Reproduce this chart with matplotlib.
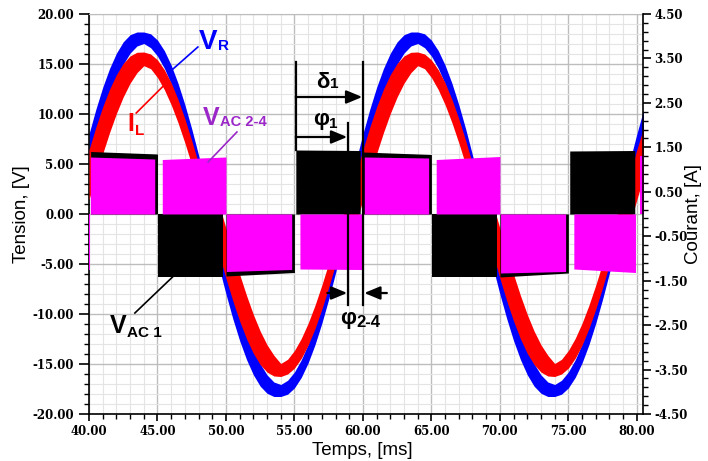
import numpy as np
import matplotlib
matplotlib.use("Agg")
import matplotlib.pyplot as plt
from matplotlib.ticker import MultipleLocator, FixedLocator

plt.rcParams['font.family'] = ['Liberation Sans', 'DejaVu Sans']
plt.rcParams['axes.unicode_minus'] = False

# time base, ms (0.5 ms steps from 40 to 81)
t = np.arange(40, 81.25, 0.5)

# V_R band (upper / lower envelope), V
blue_hi = [8.01, 10.47, 12.67, 14.55, 16.08, 17.22, 17.93, 18.2, 18.2, 18.02,
           17.39, 16.34, 14.89, 13.07, 10.93, 8.52, 5.89, 3.13,
           0.54, -2.14, -4.77, -7.28, -9.61, -11.71, -13.51, -14.98, -16.09, -16.80,
           -17.05, -16.63, -15.80, -14.58, -13.00, -11.10, -8.93, -6.54, -3.99, -1.34,
           2.56, 5.35, 8.01, 10.47, 12.67, 14.55, 16.08, 17.22, 17.93, 18.2,
           18.2, 18.02, 17.39, 16.34, 14.89, 13.07, 10.93, 8.52, 5.89, 3.13,
           0.54, -2.14, -4.77, -7.28, -9.61, -11.71, -13.51, -14.98, -16.09, -16.80,
           -17.05, -16.63, -15.80, -14.58, -13.00, -11.10, -8.93, -6.54, -3.99, -1.34,
           2.56, 5.35, 8.01, 10.47, 12.67]
blue_lo = [4.77, 7.28, 9.61, 11.71, 13.51, 14.98, 16.09, 16.80, 17.05, 16.63,
           15.80, 14.58, 13.00, 11.10, 8.93, 6.54, 3.99, 1.34,
           -2.56, -5.35, -8.01, -10.47, -12.67, -14.55, -16.08, -17.22, -17.93, -18.25,
           -18.25, -18.02, -17.39, -16.34, -14.89, -13.07, -10.93, -8.52, -5.89, -3.13,
           -0.54, 2.14, 4.77, 7.28, 9.61, 11.71, 13.51, 14.98, 16.09, 16.80,
           17.05, 16.63, 15.80, 14.58, 13.00, 11.10, 8.93, 6.54, 3.99, 1.34,
           -2.56, -5.35, -8.01, -10.47, -12.67, -14.55, -16.08, -17.22, -17.93, -18.25,
           -18.25, -18.02, -17.39, -16.34, -14.89, -13.07, -10.93, -8.52, -5.89, -3.13,
           -0.54, 2.14, 4.77, 7.28, 9.61]

# I_L band (drawn on the voltage scale), V
red_hi = [6.43, 8.68, 10.71, 12.48, 13.94, 15.06, 15.81, 16.17, 16.2, 16.0,
          15.41, 14.43, 13.11, 11.46, 9.52, 7.35, 5.01, 2.53,
          3.32, 0.95, -1.43, -3.78, -6.04, -8.14, -10.05, -11.71, -13.08, -14.13,
          -14.95, -14.53, -13.65, -12.44, -10.92, -9.13, -7.11, -4.92, -2.61, -0.24,
          1.52, 4.03, 6.43, 8.68, 10.71, 12.48, 13.94, 15.06, 15.81, 16.17,
          16.2, 16.0, 15.41, 14.43, 13.11, 11.46, 9.52, 7.35, 5.01, 2.53,
          3.32, 0.95, -1.43, -3.78, -6.04, -8.14, -10.05, -11.71, -13.08, -14.13,
          -14.95, -14.53, -13.65, -12.44, -10.92, -9.13, -7.11, -4.92, -2.61, -0.24,
          1.52, 4.03, 6.43, 8.68, 10.71]
red_lo = [1.43, 3.78, 6.04, 8.14, 10.05, 11.71, 13.08, 14.13, 14.83, 14.53,
          13.65, 12.44, 10.92, 9.13, 7.11, 4.92, 2.61, 0.24,
          -1.52, -4.03, -6.43, -8.68, -10.71, -12.48, -13.94, -15.06, -15.81, -16.2,
          -16.25, -16.0, -15.41, -14.43, -13.11, -11.46, -9.52, -7.35, -5.01, -2.53,
          -3.32, -0.95, 1.43, 3.78, 6.04, 8.14, 10.05, 11.71, 13.08, 14.13,
          14.83, 14.53, 13.65, 12.44, 10.92, 9.13, 7.11, 4.92, 2.61, 0.24,
          -1.52, -4.03, -6.43, -8.68, -10.71, -12.48, -13.94, -15.06, -15.81, -16.2,
          -16.25, -16.0, -15.41, -14.43, -13.11, -11.46, -9.52, -7.35, -5.01, -2.53,
          -3.32, -0.95, 1.43, 3.78, 6.04]

# V_AC1 blocks: start, end, level at start, level at end
black_start = [40.12, 45.03, 50.0, 55.1, 60.0, 65.03, 70.0, 75.1]
black_end = [45.0, 49.8, 55.0, 59.8, 65.0, 69.8, 75.0, 79.85]
black_v0 = [6.25, -6.25, -6.2, 6.4, 6.2, -6.3, -6.3, 6.3]
black_v1 = [6.0, -6.25, -5.85, 6.35, 5.95, -6.3, -5.9, 6.35]

# V_AC2-4 blocks
mag_start = [39.8, 40.1, 45.35, 50.03, 55.4, 60.1, 65.35, 70.05, 75.4, 80.2]
mag_end = [40.05, 44.8, 50.0, 54.8, 59.9, 64.8, 70.0, 74.8, 79.9, 80.6]
mag_v0 = [-5.6, 5.7, 5.45, -5.75, -5.5, 5.7, 5.45, -5.9, -5.5, 5.8]
mag_v1 = [-5.6, 5.5, 5.7, -5.55, -5.55, 5.6, 5.75, -5.75, -5.85, 5.8]

purple = '#9c27c9'

fig = plt.figure(figsize=(7.08, 4.61), dpi=100)
ax = fig.add_axes([89/708, 47/461, 554/708, 400/461])
ax.set_xlim(40, 80.45)
ax.set_ylim(-20, 20)

ax.fill_between(t, blue_lo, blue_hi, color='#0000ff', lw=0, zorder=2)
ax.fill_between(t, red_lo, red_hi, color='#ff0000', lw=0, zorder=3)

for s, e, a, b in zip(black_start, black_end, black_v0, black_v1):
    ax.fill_between([s, e], 0, [a, b], color='black', lw=0, zorder=4)
for s, e, a, b in zip(mag_start, mag_end, mag_v0, mag_v1):
    ax.fill_between([s, e], 0, [a, b], color='#ff00ff', lw=0, zorder=5)

# grid
ax.xaxis.set_major_locator(MultipleLocator(5))
ax.xaxis.set_minor_locator(MultipleLocator(1))
ax.yaxis.set_major_locator(MultipleLocator(5))
ax.yaxis.set_minor_locator(MultipleLocator(1))
ax.grid(which='major', color='#bdbdbd', lw=1.0)
ax.grid(which='minor', color='#e4e4e4', lw=0.8)
ax.set_axisbelow(True)

tickfont = dict(fontfamily='DejaVu Serif', fontweight='bold', fontsize=8.5)
xt = np.arange(40, 81, 5)
ax.set_xticks(xt)
ax.set_xticklabels(['%.2f' % v for v in xt], **tickfont)
yt = np.arange(-20, 21, 5)
ax.set_yticks(yt)
ax.set_yticklabels(['%.2f' % v for v in yt], **tickfont)

ax.tick_params(axis='x', which='major', direction='out', length=5, width=1.2, pad=3)
ax.tick_params(axis='x', which='minor', direction='out', length=3.5, width=1)
ax.tick_params(axis='y', which='major', direction='out', length=7, width=1.2, pad=4)
ax.tick_params(axis='y', which='minor', direction='out', length=3.5, width=1)

ax2 = ax.twinx()
ax2.set_ylim(-4.5, 4.5)
at = np.arange(-4.5, 4.6, 1.0)
ax2.set_yticks(at)
ax2.set_yticklabels(['%.2f' % v for v in at], **tickfont)
ax2.yaxis.set_minor_locator(FixedLocator(np.linspace(-4.5, 4.5, 46)))
ax2.tick_params(axis='y', which='major', direction='out', length=6, width=1.2, pad=2)
ax2.tick_params(axis='y', which='minor', direction='out', length=3.5, width=1)

for sp in ['left', 'bottom']:
    ax.spines[sp].set_linewidth(1.2)
ax.spines['right'].set_visible(False)
ax.spines['top'].set_color('#bdbdbd')
for sp in ['left', 'bottom', 'top']:
    ax2.spines[sp].set_visible(False)
ax2.spines['right'].set_linewidth(1.2)

# phase markers
mk = dict(color='black', lw=1.6, zorder=7)
ax.plot([55.1, 55.1], [6.4, 15.2], **mk)
ax.plot([58.92, 58.92], [-9.1, 9.1], **mk)
ax.plot([60.02, 60.02], [-9.1, 15.2], **mk)
arr = dict(arrowstyle='-|>,head_length=0.6,head_width=0.25', color='black',
           lw=1.6, mutation_scale=16, shrinkA=0, shrinkB=0)
ax.annotate('', xy=(59.95, 11.7), xytext=(55.1, 11.7), arrowprops=arr, zorder=7)
ax.annotate('', xy=(58.85, 7.7), xytext=(55.1, 7.7), arrowprops=arr, zorder=7)
ax.annotate('', xy=(58.85, -7.9), xytext=(57.4, -7.9), arrowprops=arr, zorder=7)
ax.annotate('', xy=(60.1, -7.9), xytext=(61.75, -7.9), arrowprops=arr, zorder=7)

# leader lines
ax.plot([47.95, 46.05], [16.7, 14.4], color='#0000ff', lw=1.2, zorder=6)
ax.plot([43.45, 45.5], [10.1, 12.9], color='#ff0000', lw=1.2, zorder=6)
ax.plot([50.8, 48.7], [8.2, 5.2], color=purple, lw=1.2, zorder=6)
ax.plot([43.35, 46.1], [-9.9, -6.3], color='black', lw=1.2, zorder=6)


def label(x, y, main, sub, color, fs, fs_sub, drop):
    txt = ax.text(x, y, main, color=color, fontsize=fs, fontweight='bold',
                  ha='left', va='baseline', zorder=8)
    ax.annotate(sub, xy=(1, 0), xycoords=txt,
                xytext=(0.3, 0.21 * fs - drop), textcoords='offset points',
                color=color, fontsize=fs_sub, fontweight='bold',
                ha='left', va='baseline', zorder=8)


label(48.05, 16.5, 'V', 'R', '#0000ff', 20, 11, 0.7)
label(42.8, 8.3, 'I', 'L', '#ff0000', 18, 11, 3.0)
label(48.3, 8.9, 'V', 'AC 2-4', purple, 18, 10.5, 0.7)
label(41.5, -11.9, 'V', 'AC 1', 'black', 18, 11, 2.7)
label(56.6, 12.6, 'δ', '1', 'black', 16, 11, 0.0)
label(56.35, 8.85, 'φ', '1', 'black', 16, 11, 1.5)
label(58.3, -11.0, 'φ', '2-4', 'black', 16, 12, 2.0)

fig.text(22/708, 1 - 214/461, 'Tension, [V]', rotation=90, ha='center', va='center', fontsize=13.5)
fig.text(694/708, 1 - 214/461, 'Courant, [A]', rotation=90, ha='center', va='center', fontsize=13.5)
fig.text(362/708, 1 - 450/461, 'Temps, [ms]', ha='center', va='center', fontsize=13.5)

fig.savefig('out.png', dpi=100)
